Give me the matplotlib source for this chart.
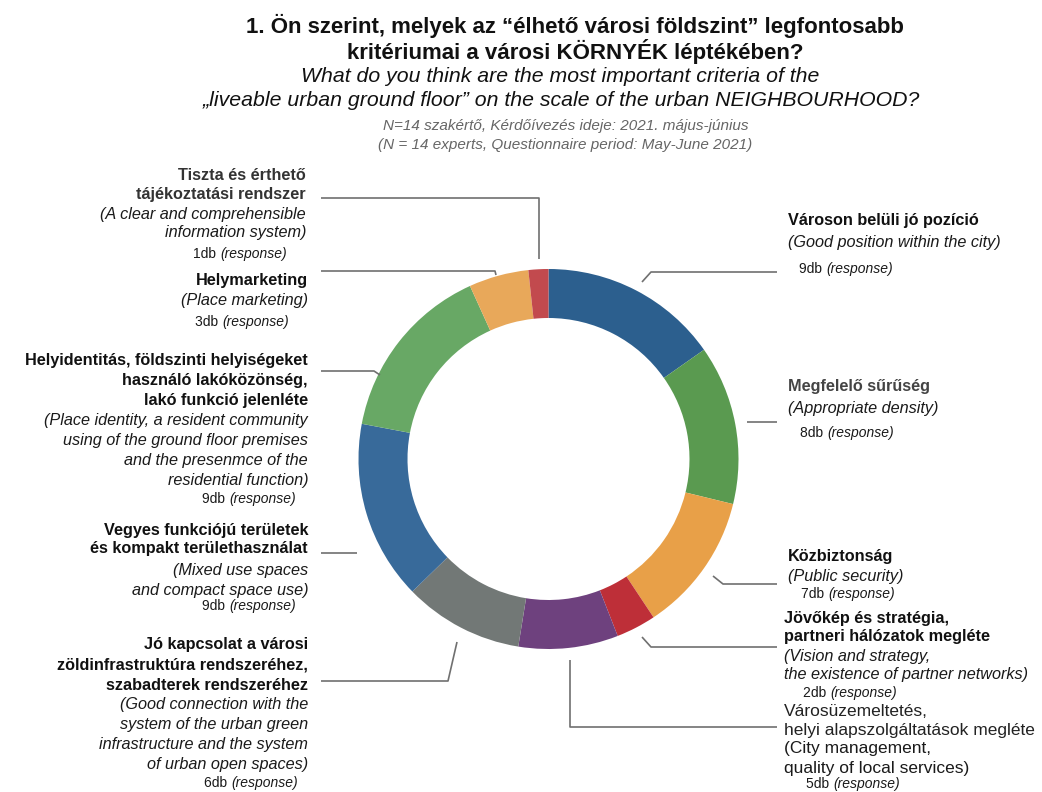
import matplotlib
matplotlib.use("Agg")
import matplotlib.pyplot as plt

plt.rcParams["font.family"] = ["Liberation Sans", "DejaVu Sans"]

W, H = 1042, 792

# segments clockwise from 12 o'clock
values = [9, 8, 7, 2, 5, 6, 9, 9, 3, 1]
colors = ["#2c5f8e", "#5a9a50", "#e8a048", "#be2f38", "#6e417e",
          "#727876", "#386a9a", "#68a865", "#e8a85a", "#c24a4e"]
hu_labels = [
    ["Városon belüli jó pozíció"],
    ["Megfelelő sűrűség"],
    ["Közbiztonság"],
    ["Jövőkép és stratégia,", "partneri hálózatok megléte"],
    ["Városüzemeltetés,", "helyi alapszolgáltatások megléte"],
    ["Jó kapcsolat a városi", "zöldinfrastruktúra rendszeréhez,",
     "szabadterek rendszeréhez"],
    ["Vegyes funkciójú területek", "és kompakt területhasználat"],
    ["Helyidentitás, földszinti helyiségeket", "használó lakóközönség,",
     "lakó funkció jelenléte"],
    ["Helymarketing"],
    ["Tiszta és érthető", "tájékoztatási rendszer"],
]
en_labels = [
    ["(Good position within the city)"],
    ["(Appropriate density)"],
    ["(Public security)"],
    ["(Vision and strategy,", "the existence of partner networks)"],
    ["(City management,", "quality of local services)"],
    ["(Good connection with the", "system of the urban green",
     "infrastructure and the system", "of urban open spaces)"],
    ["(Mixed use spaces", "and compact space use)"],
    ["(Place identity, a resident community",
     "using of the ground floor premises", "and the presenmce of the",
     "residential function)"],
    ["(Place marketing)"],
    ["(A clear and comprehensible", "information system)"],
]

# layout: text x, alignment, y of each hu line, y of each en line, count (x, y)
layout = [
    (788, "left", [221], [243], (799, 269)),
    (788, "left", [387], [408], (800, 433)),
    (788, "left", [557], [576], (801, 594)),
    (784, "left", [618, 637], [656, 675], (803, 693)),
    (784, "left", [711, 730], [749, 768], (806, 784)),
    (308, "right", [645, 665, 685], [705, 725, 745, 765], (204, 783)),
    (308, "right", [530, 549], [570, 590], (202, 606)),
    (308, "right", [360, 380, 401], [421, 441, 461, 481], (202, 499)),
    (308, "right", [280], [300], (195, 322)),
    (306, "right", [175, 195], [214, 233], (193, 254)),
]

# leader line paths in pixel coords
leaders = [
    [(642, 282), (651, 272), (777, 272)],
    [(747, 422), (777, 422)],
    [(713, 576), (723, 584), (777, 584)],
    [(642, 637), (651, 647), (777, 647)],
    [(570, 660), (570, 727), (777, 727)],
    [(457, 642), (448, 681), (321, 681)],
    [(357, 553), (321, 553)],
    [(380, 375), (374, 371), (321, 371)],
    [(496, 275), (495, 271), (321, 271)],
    [(539, 259), (539, 198), (321, 198)],
]

hu_colors = ["#111111", "#444444", "#111111", "#111111", "#222222",
             "#111111", "#111111", "#111111", "#111111", "#333333"]


def Y(y):
    return H - y


fig = plt.figure(figsize=(W / 100, H / 100), dpi=100)
ax = fig.add_axes([0, 0, 1, 1])

ax.pie(values, colors=colors, startangle=90, counterclock=False,
       radius=190, center=(548.5, Y(459)),
       wedgeprops=dict(width=49, edgecolor="none", linewidth=0))

for path in leaders:
    xs = [p[0] for p in path]
    ys = [Y(p[1]) for p in path]
    ax.plot(xs, ys, color="#707070", lw=1.2, solid_capstyle="butt")

for i, (x, ha, hu_y, en_y, (cx, cy)) in enumerate(layout):
    regular = i == 4
    fs = 12.5 if regular else 11.7
    for line, y in zip(hu_labels[i], hu_y):
        ax.text(x, Y(y), line, ha=ha, va="center", fontsize=fs,
                fontweight="normal" if regular else "bold", color=hu_colors[i])
    for line, y in zip(en_labels[i], en_y):
        ax.text(x, Y(y), line, ha=ha, va="center", fontsize=fs,
                fontstyle="normal" if regular else "italic", color="#1a1a1a")
    t = ax.text(cx, Y(cy), f"{values[i]}db ", ha="left", va="center",
                fontsize=10, color="#1a1a1a")
    ax.annotate("(response)", xy=(1, 0.5), xycoords=t, ha="left", va="center",
                fontsize=10, fontstyle="italic", color="#1a1a1a")

# titles
ax.text(575, Y(26), "1. Ön szerint, melyek az “élhető városi földszint” legfontosabb",
        ha="center", va="center", fontsize=16, fontweight="bold", color="#111111")
ax.text(575, Y(51), "kritériumai a városi KÖRNYÉK léptékében?",
        ha="center", va="center", fontsize=16, fontweight="bold", color="#111111")
ax.text(560, Y(76), "What do you think are the most important criteria of the",
        ha="center", va="center", fontsize=15.3, fontstyle="italic", color="#111111")
ax.text(561.5, Y(101), "„liveable urban ground floor” on the scale of the urban NEIGHBOURHOOD?",
        ha="center", va="center", fontsize=15.3, fontstyle="italic", color="#111111")
ax.text(565.5, Y(126), "N=14 szakértő, Kérdőívezés ideje: 2021. május-június",
        ha="center", va="center", fontsize=11, fontstyle="italic", color="#666666")
ax.text(565.5, Y(145), "(N = 14 experts, Questionnaire period: May-June 2021)",
        ha="center", va="center", fontsize=11, fontstyle="italic", color="#666666")

ax.set_xlim(0, W)
ax.set_ylim(0, H)
ax.set_aspect("equal")
ax.axis("off")

fig.savefig("out.png", dpi=100)
